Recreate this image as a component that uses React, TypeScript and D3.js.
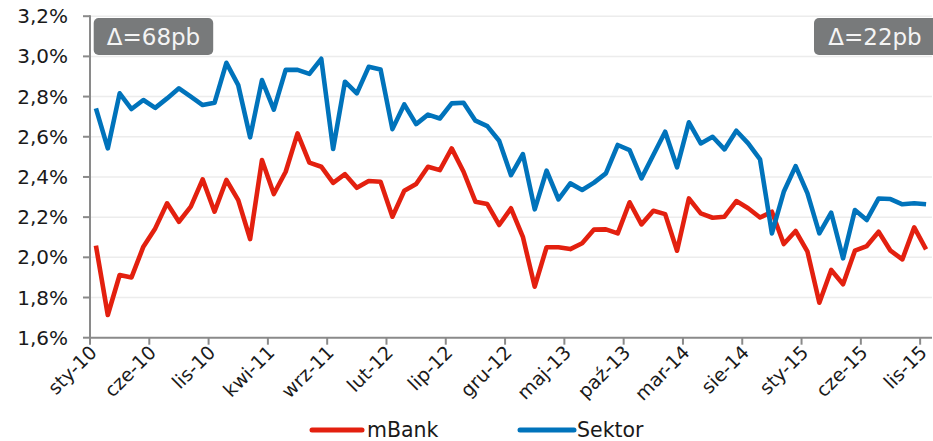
import React from "react";
import * as d3 from "d3";

const monthNames = ["sty", "lut", "mar", "kwi", "maj", "cze", "lip", "sie", "wrz", "paź", "lis", "gru"];
const years = ["10", "11", "12", "13", "14", "15"];
const categories: string[] = [];
years.forEach((y) => monthNames.forEach((m) => categories.push(`${m}-${y}`)));
const cats = categories.slice(0, 71); // sty-10 .. lis-15

const mBank = [
  2.058, 1.713, 1.912, 1.9, 2.053, 2.144, 2.269, 2.177, 2.252, 2.388, 2.227, 2.385,
  2.285, 2.091, 2.484, 2.315, 2.426, 2.617, 2.471, 2.451, 2.371, 2.414, 2.346, 2.38,
  2.376, 2.202, 2.331, 2.365, 2.451, 2.434, 2.542, 2.426, 2.277, 2.265, 2.161, 2.244,
  2.102, 1.854, 2.05, 2.05, 2.041, 2.07, 2.138, 2.139, 2.119, 2.274, 2.164, 2.232,
  2.215, 2.033, 2.293, 2.219, 2.197, 2.202, 2.28, 2.244, 2.198, 2.227, 2.066, 2.131,
  2.028, 1.774, 1.937, 1.866, 2.033, 2.056, 2.127, 2.033, 1.99, 2.149, 2.04,
];
const sektor = [
  2.741, 2.542, 2.816, 2.738, 2.783, 2.744, 2.791, 2.841, 2.8, 2.758, 2.769, 2.968,
  2.857, 2.597, 2.882, 2.735, 2.933, 2.933, 2.913, 2.988, 2.539, 2.874, 2.816, 2.948,
  2.935, 2.638, 2.761, 2.663, 2.71, 2.691, 2.766, 2.769, 2.68, 2.653, 2.58, 2.409,
  2.514, 2.239, 2.431, 2.289, 2.368, 2.335, 2.372, 2.418, 2.559, 2.534, 2.393, 2.509,
  2.625, 2.448, 2.672, 2.567, 2.6, 2.537, 2.63, 2.567, 2.488, 2.119, 2.326, 2.454,
  2.318, 2.119, 2.222, 1.995, 2.235, 2.186, 2.293, 2.29, 2.264, 2.269, 2.264,
];
const yTicks = [1.6, 1.8, 2.0, 2.2, 2.4, 2.6, 2.8, 3.0, 3.2];
const tickEvery = 5;
const boxLabels = ["Δ=68pb", "Δ=22pb"];
const seriesNames = ["mBank", "Sektor"];

const W = 933;
const H = 441;
const left = 90;
const right = 932;
const top = 16.2;
const bottom = 337.7;
const RED = "#e3200f";
const BLUE = "#0073bb";
const FONT = "DejaVu Sans, Verdana, sans-serif";

export default function App() {
  const x = d3.scaleLinear().domain([0, cats.length]).range([left, right]);
  const y = d3.scaleLinear().domain([1.6, 3.2]).range([bottom, top]);
  const line = d3
    .line<number>()
    .x((_, i) => x(i + 0.5))
    .y((d) => y(d));
  const fmt = (v: number) => v.toFixed(1).replace(".", ",") + "%";
  const tickIdx = d3.range(0, cats.length, tickEvery);
  const c = Math.SQRT1_2;

  return (
    <svg
      width={W}
      height={H}
      style={{ position: "absolute", left: 0, top: 0, background: "#fff" }}
      fontFamily={FONT}
    >
      {yTicks.slice(1).map((t) => (
        <line key={t} x1={left} x2={right} y1={y(t)} y2={y(t)} stroke="#ececec" strokeWidth={1.5} />
      ))}
      <line x1={left} x2={left} y1={top - 1} y2={bottom} stroke="#8a8a8a" strokeWidth={2} />
      <line x1={left} x2={right} y1={bottom} y2={bottom} stroke="#8a8a8a" strokeWidth={2} />
      {yTicks.map((t) => (
        <g key={t}>
          <line x1={left - 7} x2={left} y1={y(t)} y2={y(t)} stroke="#8a8a8a" strokeWidth={2} />
          <text x={68} y={y(t) + 7} textAnchor="end" fontSize={20} fill="#1a1a1a">
            {fmt(t)}
          </text>
        </g>
      ))}
      {tickIdx.map((i) => (
        <line key={"t" + i} x1={x(i)} x2={x(i)} y1={bottom} y2={bottom + 7} stroke="#8a8a8a" strokeWidth={2} />
      ))}
      {tickIdx.map((i) => {
        const lx = x(i + 0.5) + 2;
        const ly = bottom + 16;
        return (
          <text
            key={"l" + i}
            transform={`matrix(${c} ${-c} ${c} ${c} ${lx} ${ly})`}
            textAnchor="end"
            fontSize={19}
            fill="#1a1a1a"
          >
            {cats[i]}
          </text>
        );
      })}
      <path d={line(mBank) || ""} fill="none" stroke={RED} strokeWidth={4.6} strokeLinejoin="round" />
      <path d={line(sektor) || ""} fill="none" stroke={BLUE} strokeWidth={4.6} strokeLinejoin="round" />

      <rect x={93.7} y={18} width={119.5} height={37} rx={5} fill="#787a7b" />
      <text x={153.5} y={45} textAnchor="middle" fontSize={23} fill="#f4f4f4">
        {boxLabels[0]}
      </text>
      <rect x={814} y={18} width={125} height={37} rx={5} fill="#787a7b" />
      <text x={875} y={45} textAnchor="middle" fontSize={23} fill="#f4f4f4">
        {boxLabels[1]}
      </text>

      <line x1={312} x2={362} y1={430} y2={430} stroke={RED} strokeWidth={5} strokeLinecap="round" />
      <text x={367} y={436.5} fontSize={20.5} fill="#1a1a1a">
        {seriesNames[0]}
      </text>
      <line x1={520} x2={574} y1={430} y2={430} stroke={BLUE} strokeWidth={5} strokeLinecap="round" />
      <text x={577} y={436.5} fontSize={20.5} fill="#1a1a1a">
        {seriesNames[1]}
      </text>
    </svg>
  );
}
